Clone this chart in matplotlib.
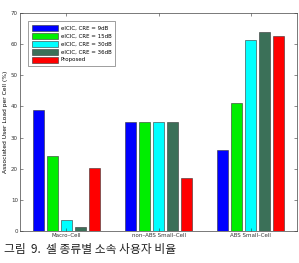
import matplotlib
matplotlib.use("Agg")
import matplotlib.pyplot as plt
import numpy as np

categories = ["Macro\u2013Cell", "non\u2013ABS Small\u2013Cell", "ABS Small\u2013Cell"]
series_names = ["eICIC, CRE = 9dB", "eICIC, CRE = 15dB", "eICIC, CRE = 30dB",
                "eICIC, CRE = 36dB", "Proposed"]
cre9 = [39.0, 35.0, 26.0]
cre15 = [24.0, 35.0, 41.0]
cre30 = [3.6, 35.0, 61.3]
cre36 = [1.2, 35.0, 63.8]
proposed = [20.2, 17.1, 62.6]
yticks = [0, 10, 20, 30, 40, 50, 60, 70]
caption = "그림  9.  셀 종류별 소속 사용자 비율"

colors = ["#0000ff", "#00ee00", "#00ffff", "#3b7058", "#ff0000"]
series = [cre9, cre15, cre30, cre36, proposed]

fig = plt.figure(figsize=(2.99, 2.63), dpi=100)
ax = fig.add_axes([20/299, 1-231/263, 277/299, 218/263])

x = np.arange(1, len(categories) + 1)
step = 0.152
width = 0.12
for i, (vals, c, name) in enumerate(zip(series, colors, series_names)):
    ax.bar(x + (i - 2) * step, vals, width, color=c, edgecolor="#333333",
           linewidth=0.4, label=name)

ax.set_xlim(0.5, 3.5)
ax.set_ylim(0, 70)
ax.set_yticks(yticks)
ax.set_xticks(x)
ax.set_xticklabels(categories)
ax.tick_params(labelsize=4.0, length=2, width=0.4, direction="in",
               top=True, right=True, pad=1.5, colors="#333333")
for s in ax.spines.values():
    s.set_linewidth(0.5)
    s.set_color("#444444")
ax.set_ylabel("Associated User Load per Cell (%)", fontsize=4.3, labelpad=2)

leg = ax.legend(loc="upper left", fontsize=4.0, frameon=True, fancybox=False,
                edgecolor="#555555", handlelength=4.8, handleheight=1.3,
                borderpad=0.6, labelspacing=0.35, handletextpad=0.4,
                bbox_to_anchor=(0.02, 0.975))
leg.get_frame().set_linewidth(0.5)

fig.text(0.015, 1-250/263, caption, fontsize=8.5, family=["Noto Sans CJK KR", "DejaVu Sans"],
         va="center", ha="left", color="#222222")

fig.savefig("out.png", dpi=100)
